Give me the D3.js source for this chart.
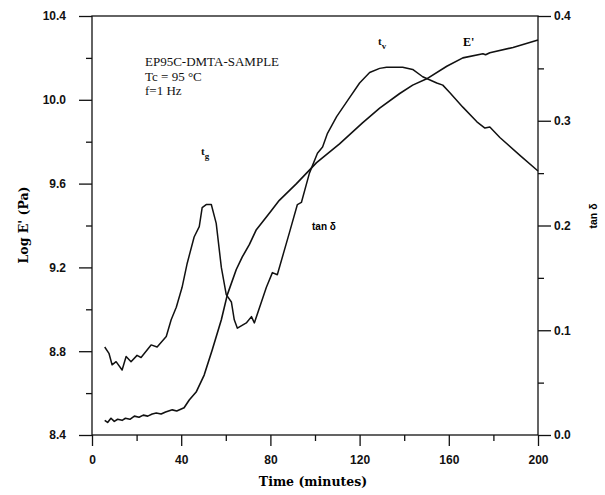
<!DOCTYPE html>
<html>
<head>
<meta charset="utf-8">
<script src="https://cdn.jsdelivr.net/npm/d3@7"></script>
<style>
  body { margin: 0; background: #fff; }
  .tick text { font-family: "Liberation Sans", Arial, sans-serif; font-weight: bold; font-size: 12px; fill: #111; }
</style>
</head>
<body>
<div id="chart"></div>
<script>
// Storage modulus E' (log Pa) vs cure time
const timeE = [5.7, 7, 8.5, 10, 11.5, 13.5, 15, 17, 19, 21.1, 23, 25, 27, 28.8, 31, 33, 36, 38, 41.3, 43.6, 46.7, 50.3, 53.9, 58, 60.7, 64.7, 67.4, 70.6, 73.7, 79.6, 84, 91.7, 100.7, 111, 121.3, 129, 138, 143.8, 150.1, 159.1, 166.3, 175.3, 176.5, 178.4, 188.8, 200];
const logE = [8.47, 8.46, 8.48, 8.465, 8.475, 8.47, 8.48, 8.475, 8.49, 8.485, 8.495, 8.49, 8.50, 8.505, 8.50, 8.51, 8.52, 8.515, 8.53, 8.567, 8.605, 8.686, 8.806, 8.95, 9.07, 9.19, 9.25, 9.31, 9.38, 9.46, 9.52, 9.60, 9.70, 9.79, 9.89, 9.96, 10.03, 10.07, 10.10, 10.16, 10.20, 10.22, 10.215, 10.225, 10.25, 10.285];

// Loss factor tan delta vs cure time
const timeTan = [5.7, 7.6, 9, 10.8, 13.5, 15.3, 17.5, 20.2, 22, 26.5, 29.2, 33.3, 35.5, 37.8, 40.4, 42.7, 45.8, 48.1, 49.4, 51.2, 53.5, 55.7, 58, 60.2, 62.5, 63.8, 65.2, 69.2, 71.5, 72.8, 78.2, 80.9, 83.1, 88.5, 92.1, 93.9, 97.5, 101.1, 103.4, 105.6, 109.7, 114.2, 120, 124.5, 129, 132.1, 139.3, 143.8, 148.3, 154.6, 157.3, 160.4, 166.3, 172.6, 176.2, 178.4, 182.9, 191.9, 200];
const tanD = [0.084, 0.078, 0.067, 0.070, 0.062, 0.075, 0.070, 0.076, 0.074, 0.086, 0.084, 0.094, 0.110, 0.122, 0.141, 0.164, 0.189, 0.199, 0.217, 0.220, 0.220, 0.202, 0.160, 0.134, 0.127, 0.110, 0.102, 0.107, 0.113, 0.107, 0.141, 0.155, 0.153, 0.193, 0.220, 0.222, 0.250, 0.269, 0.275, 0.288, 0.304, 0.318, 0.336, 0.346, 0.350, 0.351, 0.351, 0.349, 0.342, 0.336, 0.334, 0.327, 0.313, 0.299, 0.293, 0.294, 0.284, 0.267, 0.252];

// Tick values
const xTicks = [0, 40, 80, 120, 160, 200];
const xMinor = [20, 60, 100, 140, 180];
const leftTicks = [8.4, 8.8, 9.2, 9.6, 10.0, 10.4];
const leftMinor = [8.6, 9.0, 9.4, 9.8, 10.2];
const rightTicks = [0.0, 0.1, 0.2, 0.3, 0.4];
const rightMinor = [0.05, 0.15, 0.25, 0.35];

const margin = {top: 16, right: 67, bottom: 60, left: 92};
const width = 605 - margin.left - margin.right;
const height = 495 - margin.top - margin.bottom;

const svg = d3.select("#chart")
  .append("svg")
    .attr("width", 605)
    .attr("height", 495)
  .append("g")
    .attr("transform", `translate(${margin.left},${margin.top})`);

const x = d3.scaleLinear().domain([0, 200]).range([0, width]);
const yL = d3.scaleLinear().domain([8.4, 10.4]).range([height, 0]);
const yR = d3.scaleLinear().domain([0, 0.4]).range([height, 0]);

// frame
svg.append("rect")
  .attr("width", width)
  .attr("height", height)
  .attr("fill", "none")
  .attr("stroke", "#111")
  .attr("stroke-width", 1.3);

// strip domain path and darken tick marks
function tidy(g) {
  g.select(".domain").remove();
  g.selectAll(".tick line").attr("stroke", "#111").attr("stroke-width", 1.3);
}

// bottom axis
svg.append("g")
  .attr("transform", `translate(0,${height})`)
  .call(d3.axisBottom(x).tickValues(xTicks).tickSize(11).tickPadding(9).tickFormat(d3.format("d")))
  .call(tidy);
svg.append("g")
  .attr("transform", `translate(0,${height})`)
  .call(d3.axisBottom(x).tickValues(xMinor).tickSize(6).tickFormat(""))
  .call(tidy);

// left axis
svg.append("g")
  .call(d3.axisLeft(yL).tickValues(leftTicks).tickSize(13).tickPadding(13).tickFormat(d3.format(".1f")))
  .call(tidy);
svg.append("g")
  .call(d3.axisLeft(yL).tickValues(leftMinor).tickSize(6).tickFormat(""))
  .call(tidy);

// right axis
svg.append("g")
  .attr("transform", `translate(${width},0)`)
  .call(d3.axisRight(yR).tickValues(rightTicks).tickSize(13).tickPadding(3).tickFormat(d3.format(".1f")))
  .call(tidy);
svg.append("g")
  .attr("transform", `translate(${width},0)`)
  .call(d3.axisRight(yR).tickValues(rightMinor).tickSize(6).tickFormat(""))
  .call(tidy);

// curves
const lineE = d3.line()
  .x((d, i) => x(timeE[i]))
  .y(d => yL(d));
const lineTan = d3.line()
  .x((d, i) => x(timeTan[i]))
  .y(d => yR(d));

svg.append("path")
  .datum(logE)
  .attr("fill", "none")
  .attr("stroke", "#111")
  .attr("stroke-width", 1.6)
  .attr("stroke-linejoin", "round")
  .attr("d", lineE);

svg.append("path")
  .datum(tanD)
  .attr("fill", "none")
  .attr("stroke", "#111")
  .attr("stroke-width", 1.5)
  .attr("stroke-linejoin", "round")
  .attr("d", lineTan);

// axis titles
svg.append("text")
  .attr("x", width / 2 - 2)
  .attr("y", height + 51)
  .attr("text-anchor", "middle")
  .style("font-family", "'DejaVu Serif', serif")
  .style("font-weight", "bold")
  .style("font-size", "12.5px")
  .text("Time (minutes)");

svg.append("text")
  .attr("transform", `translate(${-64},${209}) rotate(-90)`)
  .attr("text-anchor", "middle")
  .style("font-family", "'DejaVu Serif', serif")
  .style("font-weight", "bold")
  .style("font-size", "12.5px")
  .text("Log E' (Pa)");

svg.append("text")
  .attr("transform", `translate(${width + 59},${200}) rotate(-90)`)
  .attr("text-anchor", "middle")
  .style("font-family", "'Liberation Sans', Arial, sans-serif")
  .style("font-weight", "bold")
  .style("font-size", "10.5px")
  .text("tan δ");

// annotations
const note = svg.append("text")
  .style("font-family", "'Liberation Serif', serif")
  .style("font-size", "13px")
  .attr("fill", "#111");
note.append("tspan").attr("x", 53).attr("y", 50).text("EP95C-DMTA-SAMPLE");
note.append("tspan").attr("x", 53).attr("y", 65).text("Tc = 95 °C");
note.append("tspan").attr("x", 53).attr("y", 79).text("f=1 Hz");

function subLabel(px, py, main, sub) {
  const t = svg.append("text")
    .attr("x", px).attr("y", py)
    .style("font-family", "'Liberation Serif', serif")
    .style("font-weight", "bold")
    .style("font-size", "11px")
    .attr("fill", "#111");
  t.append("tspan").text(main);
  t.append("tspan").attr("dy", 4).style("font-size", "9px").text(sub);
}
subLabel(109, 139, "t", "g");
subLabel(286, 29, "t", "v");

svg.append("text")
  .attr("x", 371).attr("y", 30)
  .style("font-family", "'Liberation Serif', serif")
  .style("font-weight", "bold")
  .style("font-size", "12px")
  .text("E'");

svg.append("text")
  .attr("x", 220).attr("y", 214)
  .style("font-family", "'Liberation Sans', Arial, sans-serif")
  .style("font-weight", "bold")
  .style("font-size", "10px")
  .text("tan δ");
</script>
</body>
</html>
